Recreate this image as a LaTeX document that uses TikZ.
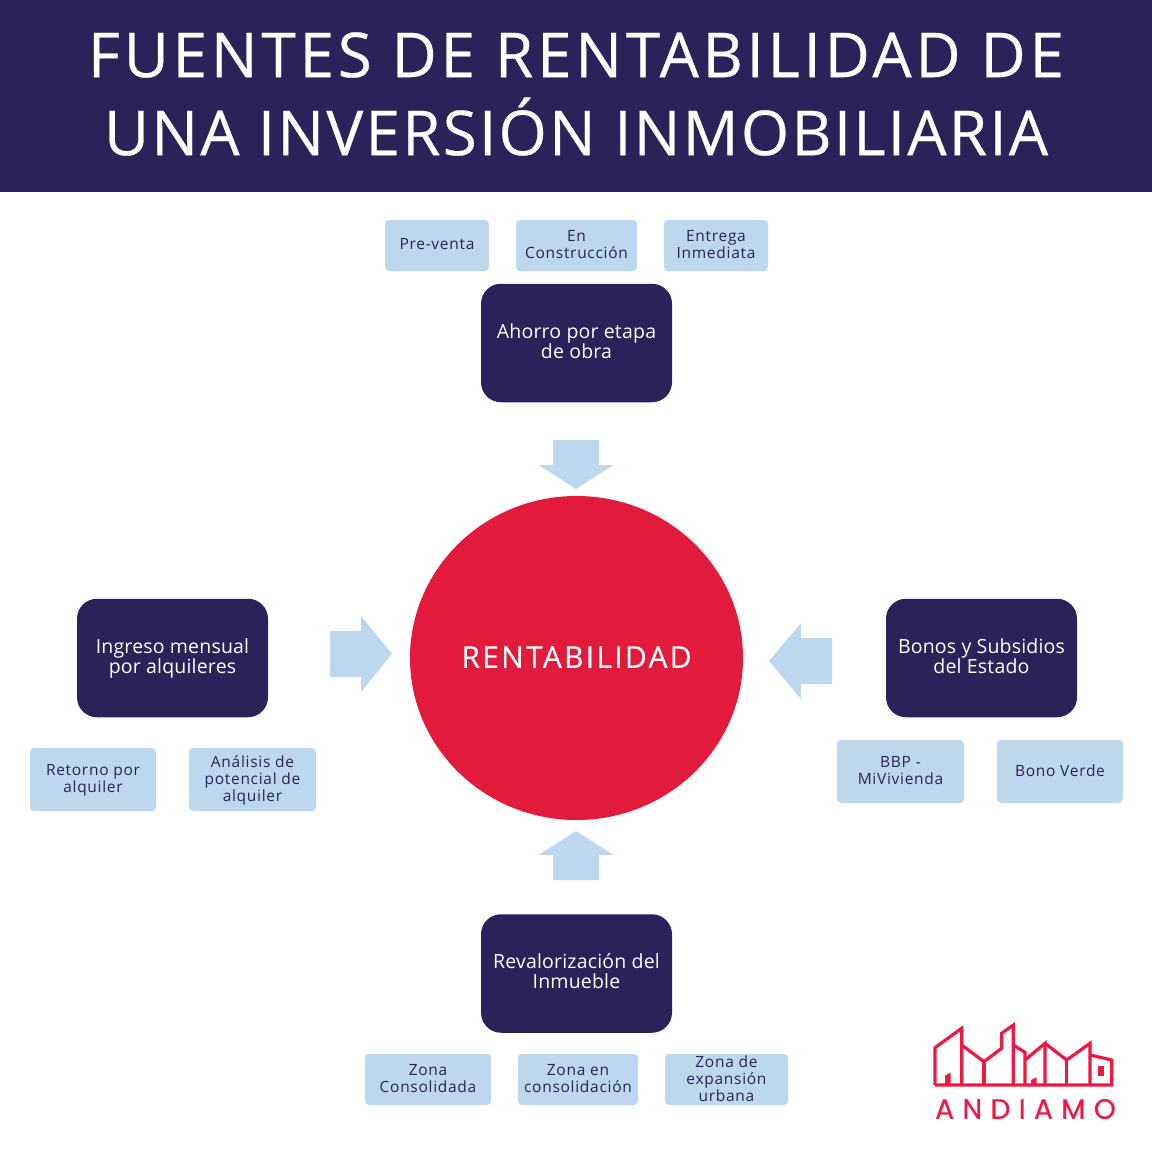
\documentclass[tikz,border=0pt]{standalone}
\usepackage{fontspec}
\setmainfont{Open Sans}
\newfontfamily\titlefont[LetterSpace=6.1,FakeBold=0.4]{Open Sans}
\newfontfamily\titlefontb[LetterSpace=3.6,FakeBold=0.4]{Open Sans}
\newfontfamily\bigfont[LetterSpace=1]{Open Sans}
\newfontfamily\smallfont[LetterSpace=4.6]{Open Sans}
\newfontfamily\circlefont[LetterSpace=7.6,FakeBold=0.2]{Open Sans}
\newfontfamily\logofont[LetterSpace=30,FakeBold=0.5]{Poppins}
\usepackage{xcolor}
\usetikzlibrary{positioning, shapes.geometric}
\definecolor{diagnavy}{HTML}{2B2259}
\definecolor{diagsky}{HTML}{BDD7EE}
\definecolor{diagred}{HTML}{E21B3C}
\definecolor{logored}{HTML}{EE1843}
\begin{document}
\begin{tikzpicture}[
  x=1pt, y=-1pt,
  bigbox/.style={rounded corners=20pt, fill=diagnavy, text=white, align=center, inner sep=0pt, text depth=4pt,
    font=\bigfont\fontsize{19.5}{20}\selectfont},
  tagbox/.style={rounded corners=4pt, fill=diagsky, text=diagnavy, align=center, inner sep=0pt, text depth=2.5pt,
    font=\smallfont\fontsize{15.5}{17}\selectfont},
  blockarrow/.style={fill=diagsky},
  logoline/.style={draw=logored, line width=3.2pt, line join=miter}]
\useasboundingbox (0,0) rectangle (1152,1152);

% header
\fill[diagnavy] (0,0) rectangle (1152,192);
\node[text=white, align=center, font=\fontsize{62}{78}\selectfont] (title) at (576,94)
  {\titlefont FUENTES DE RENTABILIDAD DE\\\titlefontb UNA INVERSIÓN INMOBILIARIA};

% centre
\node[ellipse, fill=diagred, text=white, minimum width=333pt, minimum height=324pt, inner sep=0pt, text depth=2pt,
  font=\circlefont\fontsize{30}{34}\selectfont] (renta) at (576.5,658) {RENTABILIDAD};

% main boxes
\foreach \nm/\cx/\cy/\lbl in {ahorro/576.5/343/{Ahorro por etapa\\de obra},
  ingreso/172.5/658/{Ingreso mensual\\por alquileres},
  bonos/981.5/658/{Bonos y Subsidios\\del Estado},
  revalor/576.5/973.5/{Revalorización del\\Inmueble}}
 {
  \node[bigbox, minimum width=191pt, minimum height=118.5pt] (\nm) at (\cx,\cy) {\lbl};
 }

% small boxes
\foreach \nm/\cx/\cy/\bw/\bh/\lbl in {preventa/437/245.5/104/51/{Pre-venta},
  construc/576.5/245.5/121/51/{En\\Construcción},
  entrega/716/245.5/104/51/{Entrega\\Inmediata},
  retorno/93/779.5/126/63/{Retorno por\\alquiler},
  analisis/252.5/779.5/127/63/{Análisis de\\potencial de\\alquiler},
  bbp/900.5/771.5/127/63/{BBP -\\MiVivienda},
  verde/1060/771.5/126/63/{Bono Verde},
  consol/428/1079.5/126/51/{Zona\\Consolidada},
  enconsol/578/1079.5/120/51/{Zona en\\consolidación},
  expan/726.5/1079.5/123/51/{Zona de\\expansión\\urbana}}
 {
  \node[tagbox, minimum width=\bw pt, minimum height=\bh pt] (\nm) at (\cx,\cy) {\lbl};
 }

% arrows to the centre
\fill[blockarrow] (553,440)--(599,440)--(599,465)--(613.5,465)--(576,489)--(538.5,465)--(553,465)--cycle;
\fill[blockarrow] (553,880)--(599,880)--(599,855)--(613.5,855)--(576,831)--(538.5,855)--(553,855)--cycle;
\fill[blockarrow] (330,631)--(361,631)--(361,616)--(392,654)--(361,692)--(361,677)--(330,677)--cycle;
\fill[blockarrow] (832,638)--(801,638)--(801,623)--(769,661)--(801,699)--(801,684)--(832,684)--cycle;

% logo
\begin{scope}[shift={(920,1010)}, x=0.3333pt, y=-0.3333pt]
\draw[logoline] (45,225)--(45,113)--(125,55)--(125,225);
\draw[logoline] (125,105)--(192,155)--(245,115)--(245,70)--(280,45)--(280,225);
\draw[logoline] (280,105)--(315,127)--(315,225);
\draw[logoline] (315,150)--(375,100)--(375,225);
\draw[logoline] (375,100)--(440,150)--(510,100)--(510,225);
\draw[logoline] (510,135)--(575,150)--(575,225)--(45,225);
\draw[logoline] (192,155)--(192,225);
\draw[logoline] (440,150)--(440,225);
\fill[logored] (75,225)--(75,197)--(92,188)--(92,225)--cycle;
\fill[logored] (333,225)--(333,210)--(350,202)--(350,225)--cycle;
\fill[logored] (533,168) rectangle (551,197);
\end{scope}
\node[text=logored, font=\logofont\fontsize{28}{30}\selectfont] (logo) at (1025.5,1109) {ANDIAMO};
\end{tikzpicture}
\end{document}
